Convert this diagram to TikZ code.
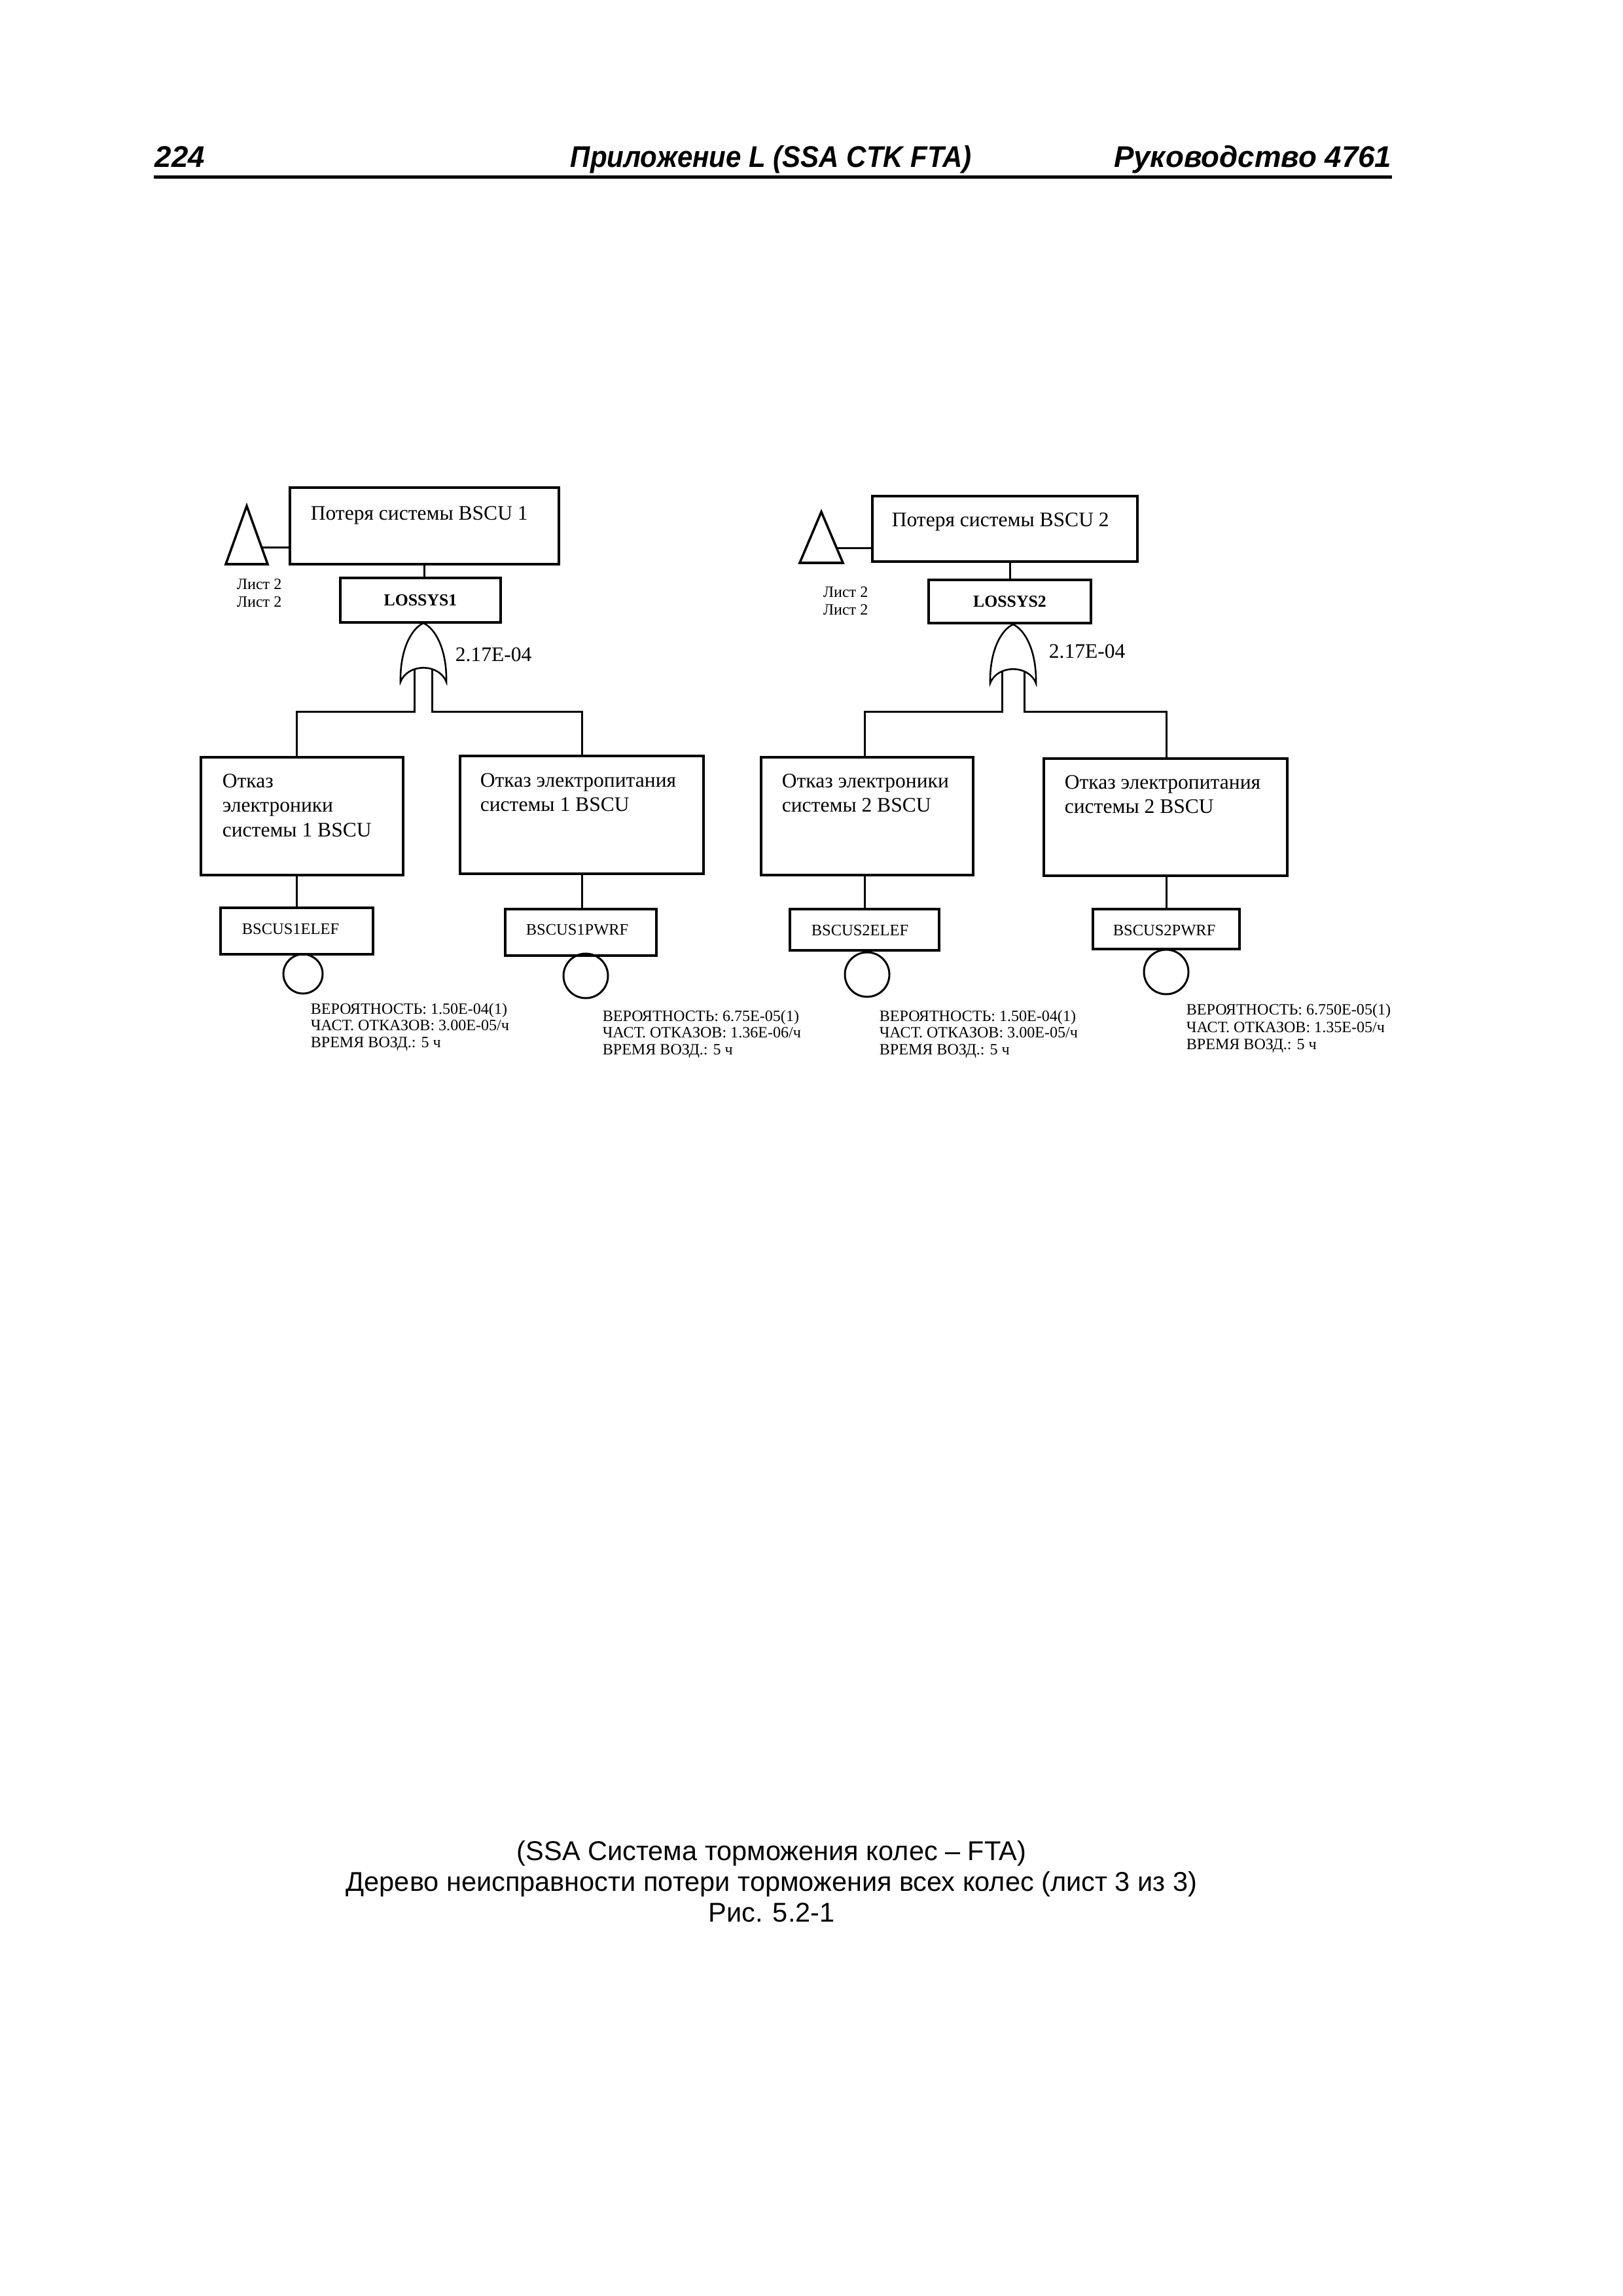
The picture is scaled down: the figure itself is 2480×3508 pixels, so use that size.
\documentclass[tikz,border=0pt]{standalone}
\usepackage{fontspec}
\usepackage{graphicx}
\setmainfont{Liberation Serif}
\newfontfamily\hdrfont{Liberation Sans}
\usetikzlibrary{calc}
\newdimen\pxu \pxu=0.0846774mm
\newcommand\mlines[1]{\vtop{\halign{##\hfil\cr#1\crcr}}}
\newcommand\orgatepath{(-35,90) .. controls (-36,40) and (-18,8) .. (0,0) .. controls (18,8) and (36,40) .. (35,90) .. controls (24,61) and (-24,61) .. cycle}
\tikzset{
  box/.style={draw, line width=0.95pt, rectangle, inner sep=0pt},
  conn/.style={line width=0.72pt},
  gatest/.style={line width=0.62pt},
  evt/.style={draw, circle, line width=0.72pt, inner sep=0pt},
  bigtxt/.style={font=\fontsize{7.6}{9.1}\selectfont, inner sep=0pt, anchor=base west},
  smalltxt/.style={font=\fontsize{5.8}{6.2}\selectfont, inner sep=0pt, anchor=base west},
  smalltxtb/.style={font=\fontsize{5.8}{6.5}\selectfont, inner sep=0pt, anchor=base west},
  idtxt/.style={font=\fontsize{5.9}{7}\selectfont, inner sep=0pt, anchor=base west},
  sheettxt/.style={font=\fontsize{5.8}{6.6}\selectfont, inner sep=0pt, anchor=base west},
  lossysfont/.style={font=\bfseries\fontsize{6.2}{7}\selectfont},
  hdr/.style={font=\hdrfont\bfseries\itshape\fontsize{11}{13}\selectfont, inner sep=0pt},
  captxt/.style={font=\hdrfont\fontsize{10}{12}\selectfont, inner sep=0pt, anchor=base}
}
\begin{document}
\begin{tikzpicture}[x=0.0846774mm, y=-0.0846774mm]
\useasboundingbox (0,0) rectangle (2480,3508);
\fill[white] (0,0) rectangle (2480,3508);

% ---------- header ----------
\node[hdr, anchor=base west] (pg) at (236,255) {224};
\node[hdr, anchor=base west] (htitle) at (871,255) {\scalebox{0.92}[1]{Приложение L (SSA CTK FTA)}};
\node[hdr, anchor=base east] (hright) at (2127,255) {Руководство 4761};
\coordinate (rulel) at (235,270.5);
\coordinate (ruler) at (2127,270.5);
\draw[line width=1.2pt] (rulel) -- (ruler);

% ---------- left tree ----------
\node[box, minimum width=411\pxu, minimum height=117\pxu] (T1) at (648.5,803.5) {};
\node[bigtxt] (T1t) at (474,794) {Потеря системы BSCU 1};
\node[box, lossysfont, minimum width=245\pxu, minimum height=68\pxu] (L1) at (642.5,917) {LOSSYS1};
\node[box, minimum width=309\pxu, minimum height=180\pxu] (A) at (461.5,1247) {};
\node[bigtxt] (At) at (339,1203) {\mlines{Отказ\cr электроники\cr системы 1 BSCU}};
\node[box, minimum width=372\pxu, minimum height=180\pxu] (B) at (889,1245) {};
\node[bigtxt] (Bt) at (733,1202) {\mlines{Отказ электропитания\cr системы 1 BSCU}};
\node[box, minimum width=233\pxu, minimum height=71\pxu] (E1) at (453.5,1422.5) {};
\node[idtxt] (E1t) at (369,1427) {BSCUS1ELEF};
\node[box, minimum width=231\pxu, minimum height=71\pxu] (E2) at (887.5,1424.5) {};
\node[idtxt] (E2t) at (803,1428) {BSCUS1PWRF};
\node[evt, minimum size=60\pxu] (c1) at (463,1488) {};
\node[evt, minimum size=68\pxu] (c2) at (895,1491) {};
\node[smalltxt] (p1) at (474,1549) {\mlines{ВЕРОЯТНОСТЬ: 1.50E-04(1)\cr ЧАСТ. ОТКАЗОВ: 3.00E-05/ч\cr ВРЕМЯ ВОЗД.: 5 ч}};
\node[smalltxt] (p2) at (920,1560) {\mlines{ВЕРОЯТНОСТЬ: 6.75E-05(1)\cr ЧАСТ. ОТКАЗОВ: 1.36E-06/ч\cr ВРЕМЯ ВОЗД.: 5 ч}};

% transfer triangle 1
\coordinate (tr1a) at (377,773);
\coordinate (tr1b) at (409,862);
\coordinate (tr1c) at (345,862);
\draw[line width=0.85pt] (tr1a) -- (tr1b) -- (tr1c) -- cycle;
\coordinate (tr1m) at (401,836);
\draw[conn] (tr1m) -- (tr1m -| T1.west);
\node[sheettxt] (s1) at (361,900) {\mlines{Лист 2\cr Лист 2}};

\draw[conn] (T1.south) -- (T1.south |- L1.north);

% OR gate 1
\begin{scope}[shift={(647,952)}]
  \draw[gatest] \orgatepath;
  \coordinate (g1at) at (-14,70);
  \coordinate (g1a) at (-14,135);
  \coordinate (g1bt) at (13,70);
  \coordinate (g1b) at (13,135);
\end{scope}
\node[bigtxt] (g1t) at (695,1010) {2.17E-04};
\draw[conn] (g1at) -- (g1a) -- (g1a -| E1.north) -- (A.north -| E1.north);
\draw[conn] (g1bt) -- (g1b) -- (g1b -| B.north) -- (B.north);
\draw[conn] (A.south -| E1.north) -- (E1.north);
\draw[conn] (B.south) -- (B.south |- E2.north);

% ---------- right tree ----------
\node[box, minimum width=405\pxu, minimum height=100\pxu] (T2) at (1535.5,808) {};
\node[bigtxt] (T2t) at (1362,804) {Потеря системы BSCU 2};
\node[box, lossysfont, minimum width=248\pxu, minimum height=66\pxu] (L2) at (1543,919) {LOSSYS2};
\node[box, minimum width=324\pxu, minimum height=180\pxu] (C) at (1325,1247) {};
\node[bigtxt] (Ct) at (1194,1203) {\mlines{Отказ электроники\cr системы 2 BSCU}};
\node[box, minimum width=372\pxu, minimum height=179\pxu] (D) at (1781,1248.5) {};
\node[bigtxt] (Dt) at (1626,1205) {\mlines{Отказ электропитания\cr системы 2 BSCU}};
\node[box, minimum width=228\pxu, minimum height=63\pxu] (E3) at (1321,1420.5) {};
\node[idtxt] (E3t) at (1239,1429) {BSCUS2ELEF};
\node[box, minimum width=224\pxu, minimum height=61\pxu] (E4) at (1782,1419.5) {};
\node[idtxt] (E4t) at (1700,1429) {BSCUS2PWRF};
\node[evt, minimum size=68\pxu] (c3) at (1325,1489) {};
\node[evt, minimum size=68\pxu] (c4) at (1782,1485) {};
\node[smalltxt] (p3) at (1343,1560) {\mlines{ВЕРОЯТНОСТЬ: 1.50E-04(1)\cr ЧАСТ. ОТКАЗОВ: 3.00E-05/ч\cr ВРЕМЯ ВОЗД.: 5 ч}};
\node[smalltxtb] (p4) at (1812,1550) {\mlines{ВЕРОЯТНОСТЬ: 6.750E-05(1)\cr ЧАСТ. ОТКАЗОВ: 1.35E-05/ч\cr ВРЕМЯ ВОЗД.: 5 ч}};

% transfer triangle 2
\coordinate (tr2a) at (1255,782);
\coordinate (tr2b) at (1288,860);
\coordinate (tr2c) at (1222,860);
\draw[line width=0.85pt] (tr2a) -- (tr2b) -- (tr2c) -- cycle;
\coordinate (tr2m) at (1278,837);
\draw[conn] (tr2m) -- (tr2m -| T2.west);
\node[sheettxt] (s2) at (1257,912) {\mlines{Лист 2\cr Лист 2}};

\draw[conn] (L2.north) -- (L2.north |- T2.south);

% OR gate 2
\begin{scope}[shift={(1548,954)}]
  \draw[gatest] \orgatepath;
  \coordinate (g2at) at (-17,71);
  \coordinate (g2a) at (-17,133);
  \coordinate (g2bt) at (17,71);
  \coordinate (g2b) at (17,133);
\end{scope}
\node[bigtxt] (g2t) at (1602,1005) {2.17E-04};
\draw[conn] (g2at) -- (g2a) -- (g2a -| E3.north) -- (C.north -| E3.north);
\draw[conn] (g2bt) -- (g2b) -- (g2b -| E4.north) -- (D.north -| E4.north);
\draw[conn] (C.south -| E3.north) -- (E3.north);
\draw[conn] (D.south -| E4.north) -- (E4.north);

% ---------- caption ----------
\node[captxt] (cap1) at (1179,2842) {(SSA Система торможения колес – FTA)};
\node[captxt] (cap2) at (1179,2889) {Дерево неисправности потери торможения всех колес (лист 3 из 3)};
\node[captxt] (cap3) at (1179,2936) {Рис. 5.2-1};
\end{tikzpicture}
\end{document}
